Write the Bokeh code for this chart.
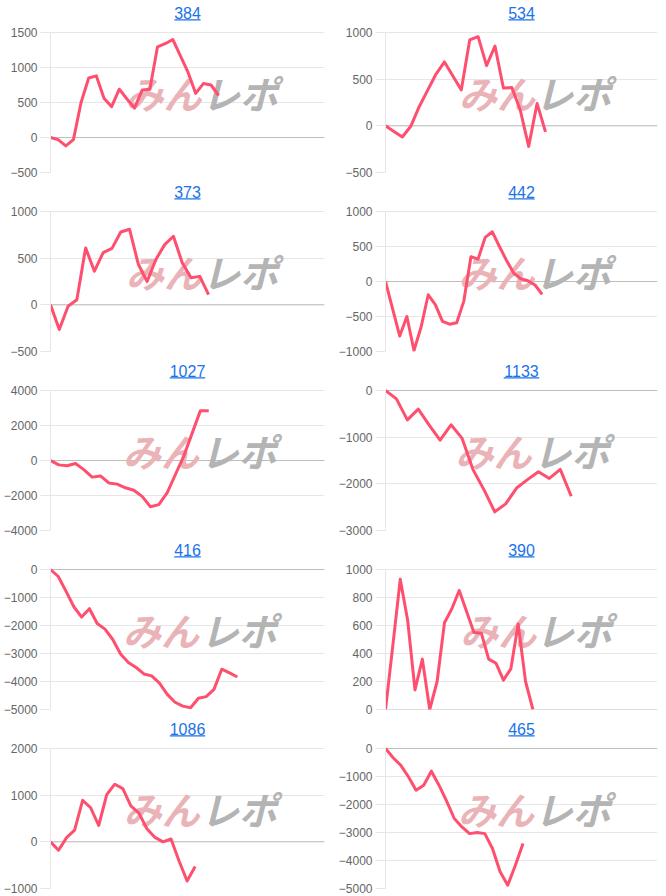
from bokeh.plotting import figure
from bokeh.layouts import gridplot
from bokeh.models import Label, BoxAnnotation, Span, FixedTicker, Range1d
from bokeh.embed import file_html
from bokeh.resources import INLINE

# ---------------- data ----------------
titles = ["384", "534", "373", "442", "1027", "1133", "416", "390", "1086", "465"]

s384 = [0, -30, -120, -30, 500, 850, 880, 560, 440, 690, 550, 420, 680, 690, 1295, 1340, 1400, 1165, 930, 630, 770, 750, 600]
s534 = [0, -60, -120, -5, 205, 380, 555, 685, 535, 385, 920, 955, 645, 855, 405, 410, 170, -220, 240, -65]
s373 = [0, -265, -15, 55, 610, 360, 560, 605, 780, 810, 435, 250, 485, 645, 735, 450, 290, 305, 110]
s442 = [0, -390, -780, -500, -985, -650, -190, -330, -570, -610, -590, -280, 355, 320, 630, 710, 500, 300, 120, 40, 10, -50, -185]
s1027 = [0, -250, -300, -170, -520, -950, -880, -1280, -1350, -1560, -1700, -2050, -2640, -2520, -1850, -800, 250, 1550, 2850, 2850]
s1133 = [0, -180, -630, -400, -740, -1065, -735, -1020, -1690, -2120, -2600, -2430, -2090, -1910, -1740, -1885, -1690, -2265]
s416 = [0, -250, -780, -1330, -1700, -1400, -1930, -2130, -2500, -3020, -3320, -3500, -3730, -3800, -4060, -4460, -4740, -4880, -4940, -4600, -4540, -4280, -3560, -3690, -3840]
s390 = [0, 460, 930, 640, 140, 360, 0, 200, 620, 720, 850, 700, 550, 545, 360, 330, 210, 290, 610, 200, 0]
s1086 = [0, -180, 90, 250, 890, 730, 350, 1010, 1235, 1140, 770, 615, 280, 95, 0, 60, -410, -840, -530]
s465 = [0, -330, -600, -1010, -1490, -1310, -810, -1310, -1880, -2500, -2800, -3040, -3000, -3040, -3570, -4400, -4880, -4170, -3390]

series = [s384, s534, s373, s442, s1027, s1133, s416, s390, s1086, s465]

# y-axis tick labels of each panel
t384 = [-500, 0, 500, 1000, 1500]
t534 = [-500, 0, 500, 1000]
t373 = [-500, 0, 500, 1000]
t442 = [-1000, -500, 0, 500, 1000]
t1027 = [-4000, -2000, 0, 2000, 4000]
t1133 = [-3000, -2000, -1000, 0]
t416 = [-5000, -4000, -3000, -2000, -1000, 0]
t390 = [0, 200, 400, 600, 800, 1000]
t1086 = [-1000, 0, 1000, 2000]
t465 = [-5000, -4000, -3000, -2000, -1000, 0]

yticks = [t384, t534, t373, t442, t1027, t1133, t416, t390, t1086, t465]

# number of x slots on each panel's horizontal axis
x_slots = [35.85, 32.3, 31.2, 38.2, 32.9, 24.9, 35.2, 36.9, 34.1, 35.6]

# ---------------- style ----------------
PW, PH = 333, 179
PLOT_H = 140          # pixel height between bottom and top tick
TOP_PAD = 30          # pixels above top tick (title area)
BORDER_TOP, BORDER_BOTTOM, BORDER_RIGHT = 2, 7, 9
left_borders = [45, 46, 44, 47, 49, 52, 49, 44, 48, 48]
LINE_COLOR = "#ff4f6e"
GRID = "#e6e6e6"
ZERO = "#bdbdbd"
TITLE_COLOR = "#1a73e8"
FONT = "Liberation Sans"
TITLE_FS = 16


def make_panel(i):
    L = left_borders[i]
    fw = PW - L - BORDER_RIGHT
    ticks = yticks[i]
    y0, y1 = ticks[0], ticks[-1]
    upp = (y1 - y0) / PLOT_H  # data units per pixel
    slots = x_slots[i]
    p = figure(width=PW, height=PH, output_backend="svg", toolbar_location=None,
               x_range=Range1d(0, slots), y_range=Range1d(y0, y1 + TOP_PAD * upp),
               min_border_left=L, min_border_right=BORDER_RIGHT,
               min_border_top=BORDER_TOP, min_border_bottom=BORDER_BOTTOM)
    p.outline_line_color = None
    p.background_fill_color = "white"
    p.border_fill_color = "white"
    p.xaxis.visible = False
    p.xgrid.visible = False

    ax = p.yaxis[0]
    ax.ticker = FixedTicker(ticks=ticks)
    ax.bounds = (y0, y1)
    ax.axis_line_color = GRID
    ax.major_tick_line_color = GRID
    ax.major_tick_out = 10
    ax.major_tick_in = 0
    ax.minor_tick_line_color = None
    ax.major_label_standoff = 3
    ax.major_label_text_font = FONT
    ax.major_label_text_font_size = "12px"
    ax.major_label_text_color = "#666666"
    p.ygrid.grid_line_color = GRID
    p.ygrid.ticker = FixedTicker(ticks=ticks)

    zero = Span(location=0, dimension="width", line_color=ZERO, line_width=1, level="underlay")
    p.add_layout(zero)

    def px_x(px):
        return (px - L) / fw * slots

    def above_top(dpx):
        return y1 + dpx * upp

    # watermark
    wm_y = above_top(-60)
    p.add_layout(Label(x=px_x(160), y=wm_y, text="みん", text_align="center", text_baseline="middle",
                       text_font="Noto Sans CJK JP", text_font_style="bold italic",
                       text_font_size="38px", text_color="#eab3b7", level="underlay"))
    p.add_layout(Label(x=px_x(238), y=wm_y, text="レポ", text_align="center", text_baseline="middle",
                       text_font="Noto Sans CJK JP", text_font_style="bold italic",
                       text_font_size="38px", text_color="#b4b4b4", level="underlay"))

    # data line
    xs = list(range(len(series[i])))
    p.line(xs, series[i], line_color=LINE_COLOR, line_width=3, line_join="round")

    # title (underlined link style)
    xc = slots / 2
    p.add_layout(Label(x=xc, y=above_top(20), text=titles[i], text_align="center",
                       text_baseline="alphabetic", text_font=FONT,
                       text_font_size=f"{TITLE_FS}px", text_color=TITLE_COLOR))
    tw = len(titles[i]) * 0.556 * TITLE_FS
    half = tw / 2 / fw * slots
    p.add_layout(BoxAnnotation(left=xc - half, right=xc + half,
                               bottom=above_top(12), top=above_top(13.2),
                               fill_color=TITLE_COLOR, fill_alpha=1, line_color=None))
    return p


figs = [make_panel(i) for i in range(len(series))]
grid = gridplot(figs, ncols=2, toolbar_location=None)

open("out.html", "w").write(file_html(grid, INLINE))
